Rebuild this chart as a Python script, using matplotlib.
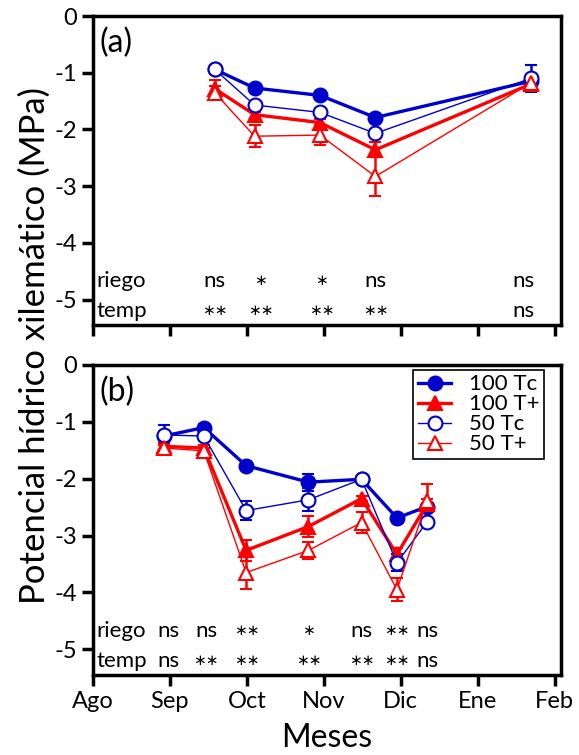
import matplotlib
matplotlib.use("Agg")
import matplotlib.pyplot as plt
from matplotlib.lines import Line2D

plt.rcParams['font.family'] = ['Lato', 'DejaVu Sans']
plt.rcParams['axes.unicode_minus'] = False

# months on the x axis (Ago = 0 ... Feb = 6)
meses = ['Ago', 'Sep', 'Oct', 'Nov', 'Dic', 'Ene', 'Feb']

# panel (a)
xa = [1.58, 2.10, 2.95, 3.67, 5.69]
a_100tc = [-0.94, -1.27, -1.40, -1.79, -1.15]
a_100tp = [-1.28, -1.74, -1.88, -2.36, -1.20]
a_50tc = [-0.94, -1.57, -1.70, -2.07, -1.10]
a_50tp = [-1.35, -2.12, -2.10, -2.83, -1.18]
a_100tc_err = [0.05, 0.05, 0.05, 0.05, 0.05]
a_100tp_err = [0.15, 0.05, 0.06, 0.13, 0.08]
a_50tc_err = [0.05, 0.05, 0.05, 0.06, 0.24]
a_50tp_err = [0.12, 0.19, 0.17, 0.35, 0.08]
a_riego = ['ns', '∗', '∗', 'ns', 'ns']
a_temp = ['∗∗', '∗∗', '∗∗', '∗∗', 'ns']
a_sig_x = [1.58, 2.18, 2.97, 3.67, 5.6]

# panel (b)
xb = [0.92, 1.44, 1.99, 2.80, 3.49, 3.95, 4.34]
b_100tc = [-1.25, -1.10, -1.77, -2.06, -2.01, -2.69, -2.49]
b_100tp = [-1.43, -1.46, -3.26, -2.84, -2.35, -3.33, -2.45]
b_50tc = [-1.23, -1.25, -2.56, -2.37, -2.01, -3.48, -2.76]
b_50tp = [-1.46, -1.51, -3.65, -3.26, -2.77, -3.95, -2.40]
b_100tc_err = [0.05, 0.06, 0.05, 0.15, 0.05, 0.05, 0.05]
b_100tp_err = [0.05, 0.05, 0.18, 0.18, 0.05, 0.12, 0.10]
b_50tc_err = [0.18, 0.05, 0.16, 0.20, 0.05, 0.15, 0.05]
b_50tp_err = [0.05, 0.05, 0.28, 0.15, 0.18, 0.20, 0.30]
b_riego = ['ns', 'ns', '∗∗', '∗', 'ns', '∗∗', 'ns']
b_temp = ['ns', '∗∗', '∗∗', '∗∗', '∗∗', '∗∗', 'ns']
b_sig_x = [0.98, 1.47, 2.0, 2.8, 3.49, 3.95, 4.35]

azul = '#0000CC'
rojo = '#FF0000'
series = [
    ('100 Tc', azul, 'o', azul, 2.4),
    ('100 T+', rojo, '^', rojo, 2.4),
    ('50 Tc', azul, 'o', 'white', 1.0),
    ('50 T+', rojo, '^', 'white', 1.0),
]

fig = plt.figure(figsize=(5.79, 7.55), dpi=100)
ax_a = fig.add_axes([0.1606, 0.5695, 0.808, 0.4093])
ax_b = fig.add_axes([0.1606, 0.106, 0.808, 0.4106])


def sig(ax, x, y, s):
    # asterisks come from DejaVu and are wider, so draw them smaller
    fs = 16 if s == 'ns' else 11
    ax.text(x, y, s, fontsize=fs, ha='center', va='center')


def panel(ax, x, ys, errs, riego, temp, sig_x, letra, labels_x):
    for (nom, col, mk, fc, lw), y, e in zip(series, ys, errs):
        ax.errorbar(x, y, yerr=e, color=col, lw=lw, marker=mk, ms=10,
                    mfc=fc, mec=col, mew=1.5, ecolor=col, elinewidth=1.8,
                    capsize=4, capthick=1.8, label=nom)
    ax.set_xlim(0, 6.08)
    ax.set_ylim(-5.45, 0)
    ax.set_xticks(range(7))
    ax.set_xticklabels(meses if labels_x else [])
    ax.set_yticks([0, -1, -2, -3, -4, -5])
    ax.set_yticklabels(['0', '-1', '-2', '-3', '-4', '-5'])
    ax.tick_params(direction='out', length=8, width=2.5, labelsize=17)
    for s in ax.spines.values():
        s.set_linewidth(2.5)
    ax.text(0.08, -0.47, letra, fontsize=23, va='center')
    ax.text(0.04, -4.68, 'riego', fontsize=16, va='center')
    ax.text(0.04, -5.2, 'temp', fontsize=16, va='center')
    for xs, r, t in zip(sig_x, riego, temp):
        sig(ax, xs, -4.68, r)
        sig(ax, xs, -5.2, t)


panel(ax_a, xa, [a_100tc, a_100tp, a_50tc, a_50tp],
      [a_100tc_err, a_100tp_err, a_50tc_err, a_50tp_err],
      a_riego, a_temp, a_sig_x, '(a)', False)
panel(ax_b, xb, [b_100tc, b_100tp, b_50tc, b_50tp],
      [b_100tc_err, b_100tp_err, b_50tc_err, b_50tp_err],
      b_riego, b_temp, b_sig_x, '(b)', True)

handles = [Line2D([], [], color=col, lw=lw, marker=mk, ms=10, mfc=fc,
                  mec=col, mew=1.5) for (nom, col, mk, fc, lw) in series]
leg = ax_b.legend(handles, [s[0] for s in series], loc='upper right',
                  fontsize=16, labelspacing=0.0, handlelength=1.5,
                  handletextpad=0.8, borderpad=0.2, borderaxespad=0,
                  fancybox=False, framealpha=1,
                  bbox_to_anchor=(0.964, 0.984))
leg.get_frame().set_edgecolor('black')
leg.get_frame().set_linewidth(1.2)

ax_b.set_xlabel('Meses', fontsize=23, labelpad=8)
fig.text(0.06, 0.543, 'Potencial hídrico xilemático (MPa)', rotation=90,
         fontsize=25, ha='center', va='center')

fig.savefig('out.png', dpi=100)
